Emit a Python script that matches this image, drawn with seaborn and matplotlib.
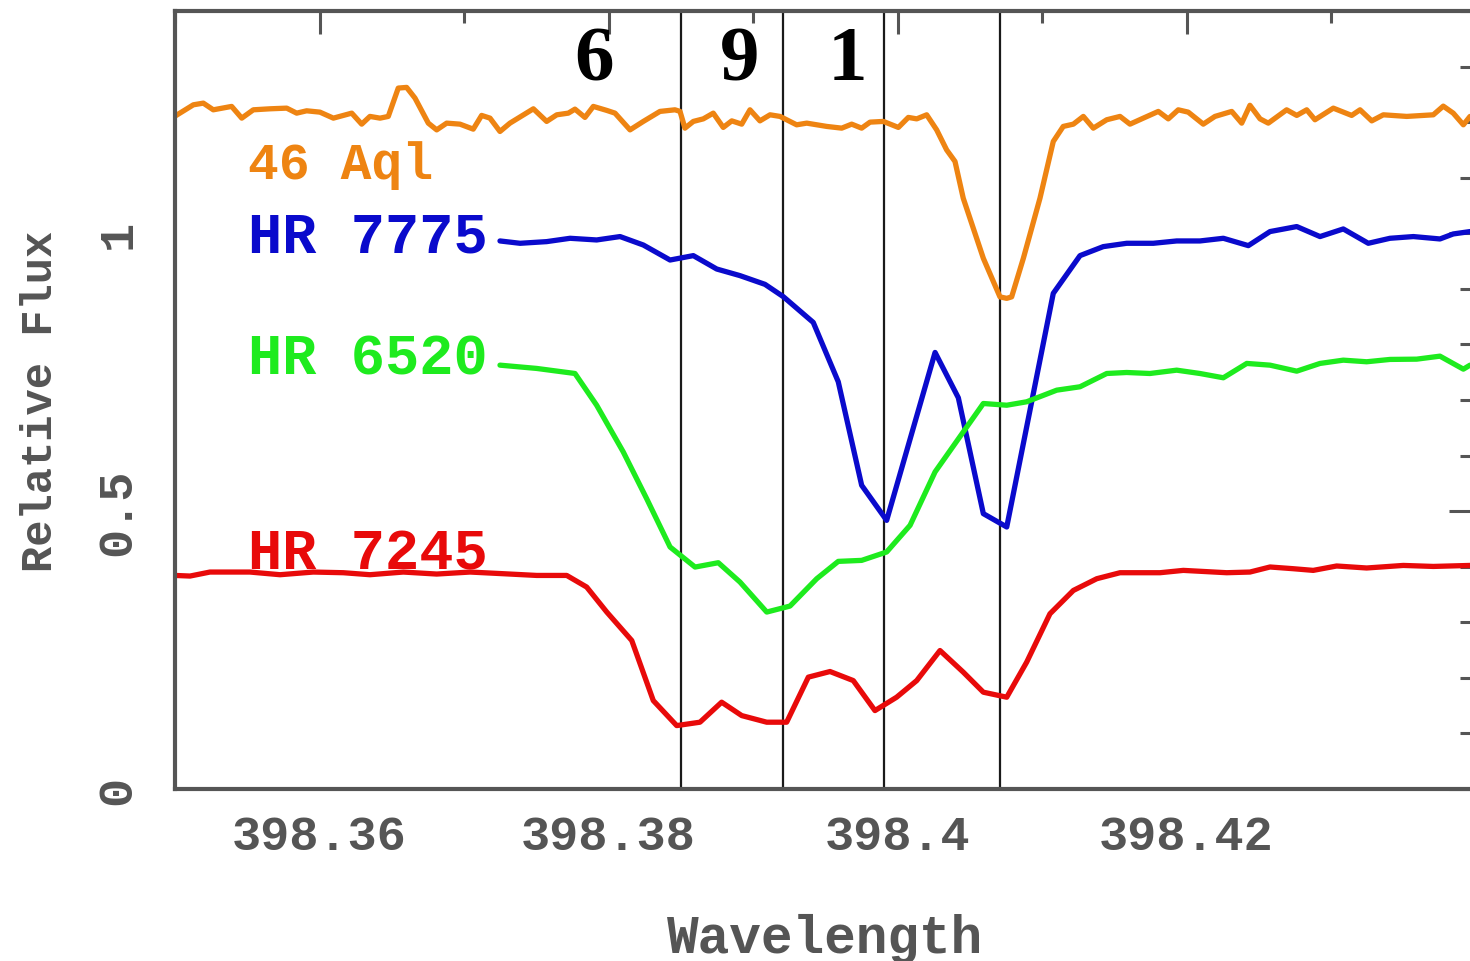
import numpy as np
import pandas as pd
import matplotlib
matplotlib.use("Agg")
import matplotlib.pyplot as plt
import seaborn as sns
from matplotlib.ticker import FixedLocator, MultipleLocator

# ---------------- data ----------------
aql_wave = [398.35000, 398.35127, 398.35196, 398.35265, 398.35392, 398.35462, 398.35542, 398.35657,
            398.35773, 398.35842, 398.35911, 398.36003, 398.36096, 398.36223, 398.36292, 398.36349,
            398.36419, 398.36476, 398.36545, 398.36603, 398.36661, 398.36753, 398.36811, 398.36880,
            398.36972, 398.37064, 398.37122, 398.37180, 398.37249, 398.37318, 398.37480, 398.37572,
            398.37642, 398.37722, 398.37768, 398.37837, 398.37895, 398.37988, 398.38045, 398.38149,
            398.38241, 398.38356, 398.38460, 398.38495, 398.38529, 398.38587, 398.38656, 398.38725,
            398.38794, 398.38853, 398.38922, 398.38979, 398.39048, 398.39118, 398.39187, 398.39302,
            398.39372, 398.39510, 398.39614, 398.39683, 398.39752, 398.39810, 398.39902, 398.40006,
            398.40075, 398.40133, 398.40202, 398.40271, 398.40340, 398.40398, 398.40455, 398.40594,
            398.40709, 398.40756, 398.40790, 398.40871, 398.40986, 398.41078, 398.41147, 398.41217,
            398.41286, 398.41355, 398.41448, 398.41540, 398.41609, 398.41701, 398.41805, 398.41874,
            398.41943, 398.42012, 398.42116, 398.42197, 398.42313, 398.42382, 398.42439, 398.42509,
            398.42566, 398.42693, 398.42763, 398.42832, 398.42889, 398.43016, 398.43143, 398.43201,
            398.43282, 398.43362, 398.43524, 398.43708, 398.43777, 398.43846, 398.43916, 398.43962]
aql_flux = [1.2108, 1.2312, 1.2342, 1.2222, 1.2283, 1.2072, 1.2222, 1.2240,
            1.2252, 1.2162, 1.2204, 1.2180, 1.2072, 1.2162, 1.1964, 1.2103,
            1.2072, 1.2103, 1.2613, 1.2625, 1.2432, 1.1982, 1.1861, 1.1982,
            1.1964, 1.1874, 1.2121, 1.2072, 1.1832, 1.1982, 1.2240, 1.2013,
            1.2132, 1.2162, 1.2234, 1.2085, 1.2283, 1.2211, 1.2162, 1.1861,
            1.2013, 1.2193, 1.2222, 1.2193, 1.1892, 1.2013, 1.2059, 1.2162,
            1.1905, 1.2023, 1.1964, 1.2222, 1.2023, 1.2132, 1.2103, 1.1952,
            1.1982, 1.1923, 1.1892, 1.1964, 1.1892, 1.2000, 1.2013, 1.1905,
            1.2085, 1.2059, 1.2132, 1.1861, 1.1501, 1.1292, 1.0631, 0.9550,
            0.8856, 0.8829, 0.8856, 0.9550, 1.0631, 1.1652, 1.1923, 1.1964,
            1.2103, 1.1892, 1.2043, 1.2103, 1.1964, 1.2072, 1.2193, 1.2059,
            1.2222, 1.2180, 1.1964, 1.2103, 1.2193, 1.1982, 1.2303, 1.2059,
            1.1982, 1.2222, 1.2121, 1.2222, 1.2043, 1.2252, 1.2121, 1.2222,
            1.2023, 1.2132, 1.2103, 1.2132, 1.2288, 1.2162, 1.1952, 1.2103]

hr7775_wave = [398.37249, 398.37388, 398.37572, 398.37734, 398.37918, 398.38080, 398.38241, 398.38426,
               398.38587, 398.38749, 398.38910, 398.39083, 398.39210, 398.39417, 398.39590, 398.39752,
               398.39925, 398.40260, 398.40421, 398.40594, 398.40756, 398.41078, 398.41263, 398.41424,
               398.41586, 398.41770, 398.41932, 398.42093, 398.42255, 398.42428, 398.42578, 398.42763,
               398.42924, 398.43085, 398.43258, 398.43408, 398.43570, 398.43754, 398.43846, 398.43962]
hr7775_flux = [0.9862, 0.9820, 0.9850, 0.9910, 0.9880, 0.9941, 0.9789, 0.9519,
               0.9598, 0.9357, 0.9238, 0.9081, 0.8859, 0.8396, 0.7328, 0.5465,
               0.4834, 0.7856, 0.7040, 0.4955, 0.4715, 0.8919, 0.9598, 0.9760,
               0.9820, 0.9820, 0.9862, 0.9862, 0.9910, 0.9778, 1.0031, 1.0121,
               0.9941, 1.0078, 0.9820, 0.9910, 0.9941, 0.9898, 0.9988, 1.0031]

hr6520_wave = [398.37249, 398.37503, 398.37768, 398.37918, 398.38102, 398.38264, 398.38426, 398.38599,
               398.38760, 398.38910, 398.39095, 398.39256, 398.39441, 398.39590, 398.39752, 398.39925,
               398.40087, 398.40260, 398.40594, 398.40756, 398.40894, 398.41102, 398.41263, 398.41448,
               398.41586, 398.41747, 398.41932, 398.42093, 398.42255, 398.42417, 398.42578, 398.42763,
               398.42924, 398.43085, 398.43247, 398.43408, 398.43593, 398.43754, 398.43916, 398.43962]
hr6520_flux = [0.7627, 0.7568, 0.7477, 0.6906, 0.6066, 0.5225, 0.4355, 0.3994,
               0.4072, 0.3724, 0.3184, 0.3292, 0.3784, 0.4096, 0.4114, 0.4265,
               0.4745, 0.5706, 0.6937, 0.6906, 0.6968, 0.7177, 0.7238, 0.7477,
               0.7495, 0.7477, 0.7537, 0.7477, 0.7400, 0.7658, 0.7627, 0.7519,
               0.7658, 0.7717, 0.7688, 0.7730, 0.7735, 0.7789, 0.7555, 0.7627]

hr7245_wave = [398.35000, 398.35104, 398.35242, 398.35519, 398.35727, 398.35957, 398.36165, 398.36349,
               398.36580, 398.36811, 398.37042, 398.37272, 398.37503, 398.37711, 398.37849, 398.37988,
               398.38161, 398.38310, 398.38472, 398.38633, 398.38783, 398.38922, 398.39095, 398.39233,
               398.39383, 398.39533, 398.39694, 398.39844, 398.39994, 398.40133, 398.40294, 398.40455,
               398.40594, 398.40756, 398.40894, 398.41055, 398.41217, 398.41379, 398.41540, 398.41817,
               398.41978, 398.42278, 398.42439, 398.42578, 398.42739, 398.42877, 398.43039, 398.43247,
               398.43500, 398.43708, 398.43962]
hr7245_flux = [0.3843, 0.3832, 0.3904, 0.3904, 0.3856, 0.3904, 0.3892, 0.3856,
               0.3904, 0.3868, 0.3904, 0.3874, 0.3843, 0.3843, 0.3634, 0.3184,
               0.2672, 0.1591, 0.1141, 0.1202, 0.1562, 0.1321, 0.1202, 0.1202,
               0.2013, 0.2114, 0.1951, 0.1411, 0.1652, 0.1951, 0.2492, 0.2103,
               0.1742, 0.1652, 0.2283, 0.3153, 0.3573, 0.3784, 0.3892, 0.3892,
               0.3934, 0.3892, 0.3904, 0.3995, 0.3964, 0.3934, 0.4013, 0.3977,
               0.4023, 0.4005, 0.4023]

star_names = ["46 Aql", "HR 7775", "HR 6520", "HR 7245"]
star_colors = ["#EE8412", "#0A0ACC", "#1EEB1E", "#E80A0A"]

component_lines = [398.38502, 398.39208, 398.39907, 398.40709]
component_labels = ["6", "9", "1"]
component_label_x = [398.37900, 398.38910, 398.39657]

x_major_ticks = [398.36, 398.38, 398.40, 398.42]
x_tick_labels = ["398.36", "398.38", "398.4", "398.42"]
y_major_ticks = [0, 0.5, 1]
y_tick_labels = ["0", "0.5", "1"]

# ---------------- style ----------------
sns.set_theme(style="white")
plt.rcParams["font.family"] = ["Liberation Mono", "DejaVu Sans"]
GRAY = "#555555"

fig = plt.figure(figsize=(14.7, 9.62), dpi=100)
W, H = 1470.0, 962.0
ax = fig.add_axes([175 / W, 172 / H, (1475.5 - 175) / W, 778 / H])

series = [(aql_wave, aql_flux), (hr7775_wave, hr7775_flux),
          (hr6520_wave, hr6520_flux), (hr7245_wave, hr7245_flux)]
for (wv, fx), name, col in zip(series, star_names, star_colors):
    df = pd.DataFrame({"Wavelength": wv, "Flux": fx})
    sns.lineplot(data=df, x="Wavelength", y="Flux", color=col, lw=3.8,
                 estimator=None, sort=False, ax=ax, legend=False)

for xv in component_lines:
    ax.axvline(xv, color="#1a1a1a", lw=1.6, zorder=1)

ax.set_xlim(398.35, 398.44)
ax.set_ylim(0, 1.4)

# star labels
label_pos = [(398.35505, 1.0991), (398.35505, 0.9670), (398.35505, 0.7477), (398.35505, 0.3964)]
label_size = [37, 41, 41, 41]
for (lx, ly), name, col, fs in zip(label_pos, star_names, star_colors, label_size):
    ax.text(lx, ly, name, color=col, fontsize=fs, fontweight="bold",
            family=["Liberation Mono"], ha="left", va="baseline")

for lx, txt in zip(component_label_x, component_labels):
    ax.text(lx, 1.2775, txt, color="black", fontsize=57, fontweight="bold",
            family=["Liberation Serif"], ha="center", va="baseline")

# ticks
ax.xaxis.set_major_locator(FixedLocator(x_major_ticks))
ax.set_xticklabels(x_tick_labels)
ax.xaxis.set_minor_locator(MultipleLocator(0.01))
ax.yaxis.set_major_locator(FixedLocator(y_major_ticks))
ax.set_yticklabels(y_tick_labels, rotation=90, va="center")
ax.yaxis.set_minor_locator(MultipleLocator(0.1))

ax.tick_params(axis="both", which="both", direction="in", top=True, right=True,
               color=GRAY, width=2.2, labelcolor=GRAY)
ax.tick_params(axis="x", which="major", length=16.5, pad=18, labelsize=35)
ax.tick_params(axis="x", which="minor", length=8.5)
ax.tick_params(axis="y", which="major", length=19, pad=25, labelsize=35)
ax.tick_params(axis="y", which="minor", length=10.5)
for lab in ax.get_xticklabels() + ax.get_yticklabels():
    lab.set_fontweight("bold")

for sp in ax.spines.values():
    sp.set_color(GRAY)
    sp.set_linewidth(3)

ax.set_xlabel("Wavelength", fontsize=38, fontweight="bold", color=GRAY, labelpad=39)
ax.set_ylabel("Relative Flux", fontsize=31.5, fontweight="bold", color=GRAY, labelpad=25)

fig.savefig("out.png", dpi=100, facecolor="white")
